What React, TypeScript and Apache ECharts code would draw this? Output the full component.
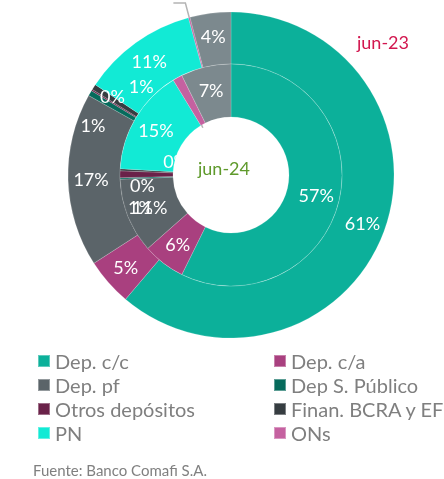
import React, { useEffect, useRef } from "react";
import * as echarts from "echarts";

// ---- data ----
const categories = [
  "Dep. c/c",
  "Dep. c/a",
  "Dep. pf",
  "Dep S. Público",
  "Otros depósitos",
  "Finan. BCRA y EF",
  "PN",
  "ONs",
  "Otros pasivos",
];
const jun23 = [61.2, 4.7, 17.2, 0.55, 0.15, 0.55, 11.45, 0.15, 4.05];
const jun24 = [57.3, 6.2, 10.9, 0.2, 1.0, 0.3, 15.4, 1.4, 7.3];
const legendLeft = ["Dep. c/c", "Dep. pf", "Otros depósitos", "PN"];
const legendRight = ["Dep. c/a", "Dep S. Público", "Finan. BCRA y EF", "ONs"];
const ringTitles = ["jun-23", "jun-24"];
const source = "Fuente: Banco Comafi S.A.";

// ---- styles ----
const colors = [
  "#0cb09a",
  "#a9407f",
  "#5b6469",
  "#066b5c",
  "#6a2249",
  "#363d41",
  "#12ead5",
  "#c561a0",
  "#7c898e",
];
const FONT = "Lato, 'Noto Sans', sans-serif";
const CX = 231;
const CY = 175;
const R0 = 58;
const R1 = 111;
const R2 = 163;

// label nudges for tiny slices [dx, dy]
const outerNudge: Record<string, [number, number]> = {
  "Dep S. Público": [-17, 20],
  "Otros depósitos": [1, -6],
  "Finan. BCRA y EF": [28, -13],
};
const innerNudge: Record<string, [number, number]> = {
  "Dep S. Público": [-1, 7],
  "Otros depósitos": [-3, 33],
  "Finan. BCRA y EF": [32, -10],
};

const toXY = (deg: number, r: number): [number, number] => {
  const a = (deg * Math.PI) / 180;
  return [CX + r * Math.sin(a), CY - r * Math.cos(a)];
};
const midAngle = (vals: number[], i: number) => {
  const total = vals.reduce((a, b) => a + b, 0);
  let before = 0;
  for (let k = 0; k < i; k++) before += vals[k];
  return ((before + vals[i] / 2) / total) * 360;
};

export default function App() {
  const ref = useRef<HTMLDivElement>(null);
  useEffect(() => {
    if (!ref.current) return;
    const chart = echarts.init(ref.current, undefined, { renderer: "svg" });
    const onsIdx = categories.indexOf("ONs");

    const makeData = (vals: number[]) =>
      vals.map((v, i) => {
        const item: any = {
          name: categories[i],
          value: v,
          itemStyle: { color: colors[i] },
        };
        if (i === onsIdx) {
          item.label = { position: "outside", formatter: " " };
          item.labelLine = {
            show: true,
            lineStyle: { color: "#b4b4b4", width: 1.5 },
          };
        }
        return item;
      });

    const baseLabel = {
      show: true,
      position: "inside",
      color: "#ffffff",
      fontFamily: FONT,
      fontSize: 18,
      formatter: (p: any) => Math.round(p.percent) + "%",
    };

    const legendBase = {
      orient: "vertical",
      top: 346,
      icon: "rect",
      itemWidth: 12,
      itemHeight: 12,
      itemGap: 4,
      selectedMode: false,
      textStyle: { fontFamily: FONT, fontSize: 20, lineHeight: 20, color: "#7f7f7f" },
    };

    const option: any = {
      animation: false,
      legend: [
        { ...legendBase, left: 32, data: legendLeft },
        { ...legendBase, left: 268, data: legendRight },
      ],
      graphic: [
        {
          type: "text",
          left: 357,
          top: 33,
          style: { text: ringTitles[0], fill: "#d2174f", font: `18px ${FONT}` },
        },
        {
          type: "text",
          left: 198,
          top: 159,
          style: { text: ringTitles[1], fill: "#5f9a2c", font: `18px ${FONT}` },
        },
        {
          type: "text",
          left: 33,
          top: 462,
          style: { text: source, fill: "#808080", font: `15px ${FONT}` },
        },
      ],
      series: [
        {
          type: "pie",
          name: ringTitles[0],
          center: [CX, CY],
          radius: [R1, R2],
          startAngle: 90,
          clockwise: true,
          avoidLabelOverlap: false,
          silent: true,
          itemStyle: { borderColor: "rgba(255,255,255,0.35)", borderWidth: 0.5 },
          label: baseLabel,
          labelLine: { show: false },
          labelLayout: (p: any) => {
            const name = categories[p.dataIndex];
            if (p.dataIndex === onsIdx) {
              const a = midAngle(jun23, onsIdx);
              const s = toXY(a, (R1 + R2) / 2);
              const m = toXY(a, R2 + 15);
              const e: [number, number] = [m[0] - 12, m[1]];
              return { x: e[0] - 2, y: e[1], align: "right", labelLinePoints: [s, m, e] };
            }
            const n = outerNudge[name];
            return n ? { dx: n[0], dy: n[1] } : {};
          },
          data: makeData(jun23),
        },
        {
          type: "pie",
          name: ringTitles[1],
          center: [CX, CY],
          radius: [R0, R1],
          startAngle: 90,
          clockwise: true,
          avoidLabelOverlap: false,
          silent: true,
          itemStyle: { borderColor: "rgba(255,255,255,0.35)", borderWidth: 0.5 },
          label: baseLabel,
          labelLine: { show: false },
          labelLayout: (p: any) => {
            const name = categories[p.dataIndex];
            if (p.dataIndex === onsIdx) {
              const a = midAngle(jun24, onsIdx);
              const s = toXY(a, (R0 + R1) / 2);
              const e = toXY(a - 2, R0 - 3);
              const m: [number, number] = [(s[0] + e[0]) / 2, (s[1] + e[1]) / 2];
              return { x: e[0], y: e[1] + 4, labelLinePoints: [s, m, e] };
            }
            const n = innerNudge[name];
            return n ? { dx: n[0], dy: n[1] } : {};
          },
          data: makeData(jun24),
        },
      ],
    };
    chart.setOption(option);
    return () => chart.dispose();
  }, []);
  return (
    <div
      ref={ref}
      style={{ position: "fixed", left: 0, top: 0, width: 444, height: 479 }}
    />
  );
}
